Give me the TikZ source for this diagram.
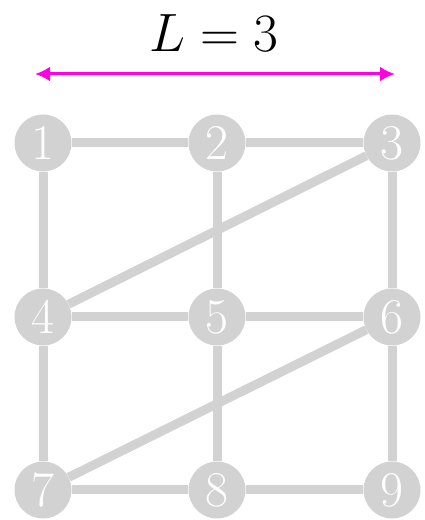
\documentclass[tikz,border=0pt]{standalone}
\usepackage{fix-cm}
\usepackage{fontspec}
\usepackage{amsmath}
\usetikzlibrary{arrows.meta}
\definecolor{lenmag}{RGB}{255,0,225}

\begin{document}
\begin{tikzpicture}[x=1pt, y=1pt, >=Latex,
    vertex/.style={circle, fill=gray!35, minimum size=57pt, inner sep=0pt,
        text=white, font=\fontsize{50}{50}\selectfont},
    link/.style={gray!35, line width=9pt}]
    \useasboundingbox (0,0) rectangle (424,520);

    % Length arrow and label
    \coordinate (arrL) at (35,446);
    \coordinate (arrR) at (395,446);
    \draw[{Latex[length=15pt,width=15pt]}-{Latex[length=15pt,width=15pt]}, lenmag, line width=3pt] (arrL) -- (arrR);
    \node[anchor=base, font=\fontsize{54}{54}\selectfont] (len) at (214,468) {$L = 3$};

    % Vertices of the 3x3 grid
    \foreach \i/\x/\y in {1/43/377, 2/217/377, 3/392/377,
                          4/43/203, 5/217/203, 6/392/203,
                          7/43/30,  8/217/30,  9/392/30} {
        \node[vertex] (v\i) at (\x,\y) {\i};
    }

    % Edges
    \foreach \a/\b in {1/2, 2/3, 4/5, 5/6, 7/8, 8/9,
                       1/4, 4/7, 2/5, 5/8, 3/6, 6/9,
                       4/3, 7/6} {
        \draw[link] (v\a) -- (v\b);
    }

\end{tikzpicture}
\end{document}
